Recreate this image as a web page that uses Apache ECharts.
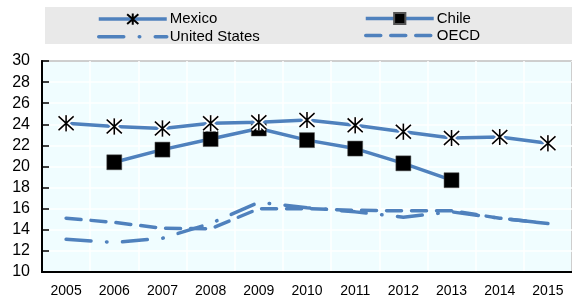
<html>
<head>
<meta charset="utf-8">
<title>Mexico, Chile, United States, OECD</title>
<script src="https://cdn.jsdelivr.net/npm/echarts@6/dist/echarts.min.js"></script>
<style>
	body { margin: 0; background: #fff; }
	#main { width: 572px; height: 300px; }
</style>
</head>
<body>
<div id="main"></div>
<script type="text/javascript">
var years = ['2005', '2006', '2007', '2008', '2009', '2010', '2011', '2012', '2013', '2014', '2015'];
var mexico = [24.1, 23.8, 23.6, 24.1, 24.2, 24.4, 23.9, 23.3, 22.7, 22.8, 22.2];
var chile = [null, 20.4, 21.6, 22.6, 23.6, 22.5, 21.7, 20.3, 18.7, null, null];
var unitedStates = [13.1, 12.8, 13.2, 14.6, 16.6, 16.1, 15.7, 15.2, 15.7, 15.1, 14.6];
var oecd = [15.1, 14.7, 14.15, 14.1, 16.0, 16.0, 15.85, 15.8, 15.8, 15.1, 14.6];

var blue = '#4f81bd';
var star = 'path://M0,0L12,12M12,0L0,12M6,-1L6,13';
var font = 'Liberation Sans, Arial, sans-serif';

var myChart = echarts.init(document.getElementById('main'));
myChart.setOption({
	animation: false,
	textStyle: { fontFamily: font },
	graphic: [{
		type: 'rect',
		shape: { x: 45, y: 7, width: 527, height: 37 },
		style: { fill: '#e9e9e9' },
		z: -1
	}],
	legend: [{
		data: ['Mexico', { name: 'United States', itemStyle: { opacity: 0 } }],
		orient: 'vertical',
		left: 92,
		top: 6,
		itemWidth: 68,
		itemHeight: 14,
		itemGap: 2,
		lineStyle: { width: 3.5 },
		textStyle: { fontSize: 15, color: '#000', fontFamily: font, padding: [0, 0, 0, -2] }
	}, {
		data: ['Chile', { name: 'OECD', itemStyle: { opacity: 0 } }],
		orient: 'vertical',
		left: 359,
		top: 6,
		itemWidth: 68,
		itemHeight: 14,
		itemGap: 2,
		lineStyle: { width: 3.5 },
		textStyle: { fontSize: 15, color: '#000', fontFamily: font, padding: [0, 0, 0, -2] }
	}],
	grid: {
		left: 42,
		right: -5,
		top: 61,
		bottom: 28,
		show: true,
		backgroundColor: '#f0fdff',
		borderColor: '#000',
		borderWidth: 1.5
	},
	xAxis: {
		type: 'category',
		data: years,
		boundaryGap: true,
		axisLine: { lineStyle: { color: '#000', width: 2 } },
		axisTick: { inside: true, length: 5, lineStyle: { color: '#000', width: 1.5 } },
		axisLabel: { color: '#000', fontSize: 14, margin: 12 },
		splitLine: { show: true, lineStyle: { color: '#fff', width: 1.5 } }
	},
	yAxis: {
		type: 'value',
		min: 10,
		max: 30,
		interval: 2,
		axisLine: { show: true, lineStyle: { color: '#000', width: 2 } },
		axisTick: { show: true, inside: true, length: 7, lineStyle: { color: '#000', width: 1.5 } },
		axisLabel: { color: '#000', fontSize: 16, margin: 12 },
		splitLine: { lineStyle: { color: '#fff', width: 1.5 } }
	},
	series: [{
		name: 'United States',
		type: 'line',
		data: unitedStates,
		symbol: 'none',
		z: 2,
		lineStyle: { color: blue, width: 3.5, type: [25, 15.5, 0.5, 15.5], cap: 'round' },
		itemStyle: { color: blue }
	}, {
		name: 'OECD',
		type: 'line',
		data: oecd,
		symbol: 'none',
		z: 2,
		lineStyle: { color: blue, width: 3.5, type: [15, 10], cap: 'round' },
		itemStyle: { color: blue }
	}, {
		name: 'Chile',
		type: 'line',
		data: chile,
		symbol: 'rect',
		symbolSize: 15,
		z: 3,
		lineStyle: { color: blue, width: 3.5 },
		itemStyle: { color: '#000', borderColor: '#555', borderWidth: 0.5 }
	}, {
		name: 'Mexico',
		type: 'line',
		data: mexico,
		symbol: star,
		symbolSize: [15, 16],
		z: 4,
		lineStyle: { color: blue, width: 3.5 },
		itemStyle: { color: 'none', borderColor: '#000', borderWidth: 1.6 }
	}, {
		name: 'mexico-halo',
		type: 'line',
		data: mexico,
		symbol: star,
		symbolSize: [15, 16],
		z: 5,
		lineStyle: { width: 0, opacity: 0 },
		itemStyle: { color: 'none', borderColor: '#fff', borderWidth: 5 }
	}, {
		name: 'mexico-mark',
		type: 'line',
		data: mexico,
		symbol: star,
		symbolSize: [15, 16],
		z: 6,
		lineStyle: { width: 0, opacity: 0 },
		itemStyle: { color: 'none', borderColor: '#000', borderWidth: 1.6 }
	}]
});
</script>
</body>
</html>
